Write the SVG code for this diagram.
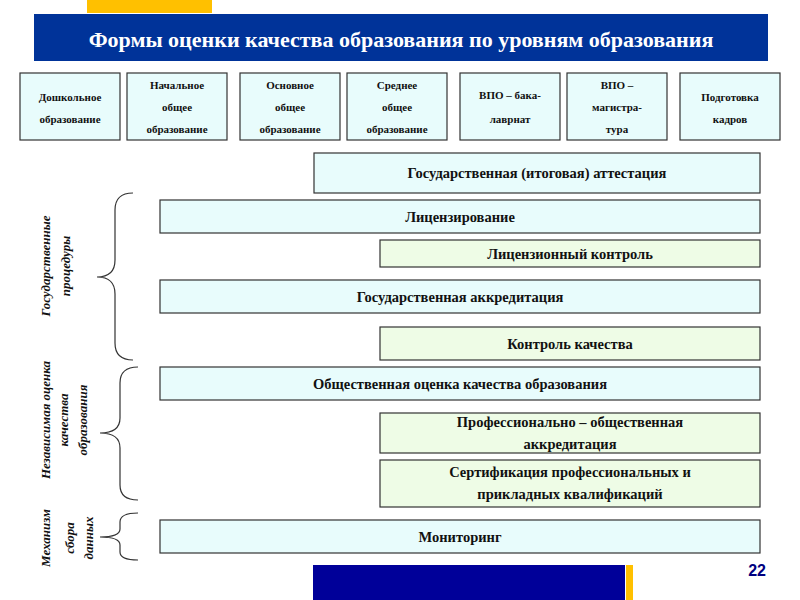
<svg xmlns="http://www.w3.org/2000/svg" width="800" height="600" viewBox="0 0 800 600">
<style>
.c{fill:#e8fcfc;stroke:#333;stroke-width:1.2}
.g{fill:#eefce6;stroke:#333;stroke-width:1.2}
.t{font-family:"Liberation Serif","DejaVu Serif",serif;font-weight:bold;font-size:14.5px;fill:#111;text-anchor:middle}
.s{font-family:"Liberation Serif","DejaVu Serif",serif;font-weight:bold;font-size:11px;fill:#111;text-anchor:middle}
.v{font-family:"Liberation Serif","DejaVu Serif",serif;font-weight:bold;font-style:italic;font-size:13px;fill:#111;text-anchor:middle}
.h{font-family:"Liberation Serif","DejaVu Serif",serif;font-weight:bold;font-size:22px;fill:#fff;text-anchor:middle}
.b{fill:none;stroke:#333;stroke-width:1.2}
</style>
<rect width="800" height="600" fill="#fff"/>
<rect x="87" y="0" width="125" height="13" fill="#ffc000"/>
<rect x="34" y="14" width="734" height="47" fill="#003399"/>
<text class="h" x="401" y="47">Формы оценки качества образования по уровням образования</text>
<rect x="313" y="565" width="312" height="35" fill="#000099"/>
<rect x="626" y="565" width="7" height="35" fill="#ffc000"/>
<text x="766" y="576" font-family="Liberation Sans,sans-serif" font-weight="bold" font-size="16" fill="#000080" text-anchor="end">22</text>
<g id="levels">
<g id="n1"><rect class="c" x="20" y="73" width="100" height="67"/><text class="s" x="70" y="101">Дошкольное</text><text class="s" x="70" y="123">образование</text></g>
<g id="n2"><rect class="c" x="127" y="73" width="100" height="67"/><text class="s" x="177" y="89">Начальное</text><text class="s" x="177" y="111">общее</text><text class="s" x="177" y="133">образование</text></g>
<g id="n3"><rect class="c" x="240" y="73" width="100" height="67"/><text class="s" x="290" y="89">Основное</text><text class="s" x="290" y="111">общее</text><text class="s" x="290" y="133">образование</text></g>
<g id="n4"><rect class="c" x="347" y="73" width="100" height="67"/><text class="s" x="397" y="89">Среднее</text><text class="s" x="397" y="111">общее</text><text class="s" x="397" y="133">образование</text></g>
<g id="n5"><rect class="c" x="460" y="73" width="100" height="67"/><text class="s" x="510" y="99">ВПО – бака-</text><text class="s" x="510" y="123">лаврнат</text></g>
<g id="n6"><rect class="c" x="567" y="73" width="100" height="67"/><text class="s" x="617" y="89">ВПО –</text><text class="s" x="617" y="111">магистра-</text><text class="s" x="617" y="133">тура</text></g>
<g id="n7"><rect class="c" x="680" y="73" width="100" height="67"/><text class="s" x="730" y="101">Подготовка</text><text class="s" x="730" y="123">кадров</text></g>
</g>
<g id="r1"><rect class="c" x="314" y="153" width="446" height="40"/><text class="t" x="537" y="178">Государственная (итоговая) аттестация</text></g>
<g id="r2"><rect class="c" x="160" y="200" width="600" height="33"/><text class="t" x="460" y="222">Лицензирование</text></g>
<g id="r3"><rect class="g" x="380" y="240" width="380" height="27"/><text class="t" x="570" y="259">Лицензионный контроль</text></g>
<g id="r4"><rect class="c" x="160" y="280" width="600" height="33"/><text class="t" x="460" y="302">Государственная аккредитация</text></g>
<g id="r5"><rect class="g" x="380" y="327" width="380" height="33"/><text class="t" x="570" y="349">Контроль качества</text></g>
<g id="r6"><rect class="c" x="160" y="367" width="600" height="33"/><text class="t" x="460" y="389">Общественная оценка качества образования</text></g>
<g id="r7"><rect class="g" x="380" y="413" width="380" height="40"/><text class="t" x="570" y="427">Профессионально – общественная</text><text class="t" x="570" y="449">аккредитация</text></g>
<g id="r8"><rect class="g" x="380" y="460" width="380" height="47"/><text class="t" x="570" y="477">Сертификация профессиональных и</text><text class="t" x="570" y="499">прикладных квалификаций</text></g>
<g id="r9"><rect class="c" x="160" y="520" width="600" height="33"/><text class="t" x="460" y="542">Мониторинг</text></g>
<g id="connectors">
<path class="b" d="M133,193 Q115,193 115,210 L115,260 Q115,277 97,277 Q115,277 115,294 L115,343 Q115,360 133,360"/>
<path class="b" d="M138,367 Q120,367 120,383 L120,418 Q120,433 100,433 Q120,433 120,448 L120,485 Q120,500 138,500"/>
<path class="b" d="M138,513 Q120,513 120,522 L120,529 Q120,537 100,537 Q120,537 120,545 L120,552 Q120,560 138,560"/>
</g>
<g id="labels">
<g transform="translate(0,266) rotate(-90)"><text class="v" x="0" y="50">Государственные</text><text class="v" x="0" y="70">процедуры</text></g>
<g transform="translate(0,420) rotate(-90)"><text class="v" x="0" y="50">Независимая оценка</text><text class="v" x="0" y="68">качества</text><text class="v" x="0" y="87">образования</text></g>
<g transform="translate(0,538) rotate(-90)"><text class="v" x="0" y="50">Механизм</text><text class="v" x="0" y="74">сбора</text><text class="v" x="0" y="93">данных</text></g>
</g>
</svg>
